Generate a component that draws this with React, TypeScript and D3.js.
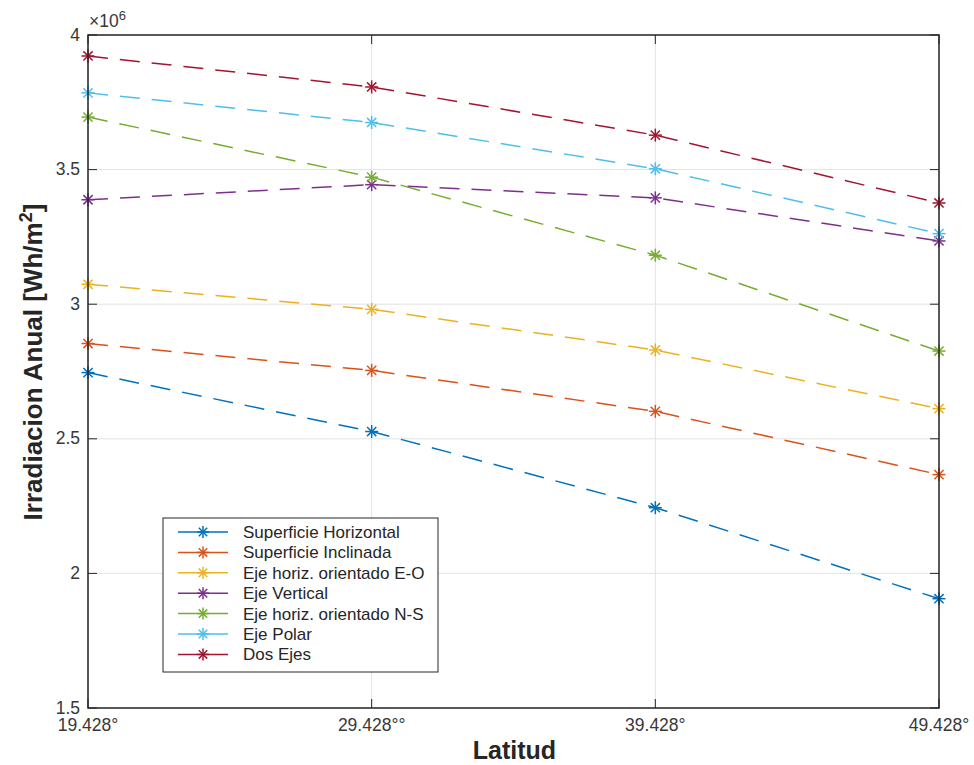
import React from "react";
import * as d3 from "d3";

const latitudes = [19.428, 29.428, 39.428, 49.428];
const xTickLabels = ["19.428°", "29.428°°", "39.428°", "49.428°"];
const yTicks = [1.5, 2, 2.5, 3, 3.5, 4];

const seriesNames = [
  "Superficie Horizontal",
  "Superficie Inclinada",
  "Eje horiz. orientado E-O",
  "Eje Vertical",
  "Eje horiz. orientado N-S",
  "Eje Polar",
  "Dos Ejes",
];
const seriesColors = ["#0072BD", "#D95319", "#EDB120", "#7E2F8E", "#77AC30", "#4DBEEE", "#A2142F"];

// Annual irradiation, in units of 1e6 Wh/m²
const horizontal = [2.746, 2.527, 2.244, 1.906];
const inclinada = [2.854, 2.754, 2.602, 2.367];
const ejeEO = [3.074, 2.981, 2.830, 2.612];
const ejeVertical = [3.388, 3.444, 3.395, 3.235];
const ejeNS = [3.695, 3.472, 3.182, 2.826];
const ejePolar = [3.785, 3.675, 3.503, 3.262];
const dosEjes = [3.922, 3.807, 3.628, 3.376];

const seriesValues = [horizontal, inclinada, ejeEO, ejeVertical, ejeNS, ejePolar, dosEjes];

const W = 974;
const H = 765;
const left = 88;
const right = 939;
const top = 35;
const bottom = 708;

const FONT = "'Liberation Sans', Arial, Helvetica, sans-serif";

function Asterisk({ x, y, r, color }: { x: number; y: number; r: number; color: string }) {
  const d = r * Math.SQRT1_2;
  return (
    <g stroke={color} strokeWidth={1.5}>
      <line x1={x - r} y1={y} x2={x + r} y2={y} />
      <line x1={x} y1={y - r} x2={x} y2={y + r} />
      <line x1={x - d} y1={y - d} x2={x + d} y2={y + d} />
      <line x1={x - d} y1={y + d} x2={x + d} y2={y - d} />
    </g>
  );
}

export default function App() {
  const x = d3.scaleLinear().domain([19.428, 49.428]).range([left, right]);
  const y = d3.scaleLinear().domain([1.5, 4]).range([bottom, top]);
  const line = d3
    .line<number>()
    .x((_, i) => x(latitudes[i]))
    .y((v) => y(v));

  const legX = 163;
  const legY = 518;
  const legW = 275;
  const legH = 154;
  const rowStart = 532;
  const rowStep = 20.4;

  return (
    <svg width={W} height={H} style={{ position: "absolute", left: 0, top: 0, background: "#fff" }} fontFamily={FONT}>
      <rect x={0} y={0} width={W} height={H} fill="#fff" />
      {/* grid */}
      <g stroke="#e3e3e3" strokeWidth={1}>
        {latitudes.map((v, i) => (
          <line key={"gx" + i} x1={x(v)} x2={x(v)} y1={top} y2={bottom} />
        ))}
        {yTicks.map((v, i) => (
          <line key={"gy" + i} x1={left} x2={right} y1={y(v)} y2={y(v)} />
        ))}
      </g>
      {/* inward ticks */}
      <g stroke="#262626" strokeWidth={1}>
        {latitudes.map((v, i) => (
          <g key={"tx" + i}>
            <line x1={x(v)} x2={x(v)} y1={bottom} y2={bottom - 9} />
            <line x1={x(v)} x2={x(v)} y1={top} y2={top + 9} />
          </g>
        ))}
        {yTicks.map((v, i) => (
          <g key={"ty" + i}>
            <line x1={left} x2={left + 9} y1={y(v)} y2={y(v)} />
            <line x1={right} x2={right - 9} y1={y(v)} y2={y(v)} />
          </g>
        ))}
      </g>
      {/* series */}
      {seriesValues.map((vals, si) => (
        <g key={"s" + si}>
          <path d={line(vals) || ""} fill="none" stroke={seriesColors[si]} strokeWidth={1.5} strokeDasharray="20,12" />
          {vals.map((v, i) => (
            <Asterisk key={i} x={x(latitudes[i])} y={y(v)} r={6.5} color={seriesColors[si]} />
          ))}
        </g>
      ))}
      {/* axes box */}
      <rect x={left} y={top} width={right - left} height={bottom - top} fill="none" stroke="#262626" strokeWidth={1.5} />
      {/* tick labels */}
      <g fill="#383838" fontSize={17.5}>
        {yTicks.map((v, i) => (
          <text key={"yl" + i} x={left - 8} y={y(v) + 5.5} textAnchor="end">
            {d3.format("~g")(v)}
          </text>
        ))}
        {latitudes.map((v, i) => (
          <text key={"xl" + i} x={x(v)} y={bottom + 23} textAnchor="middle">
            {xTickLabels[i]}
          </text>
        ))}
        <text x={left + 1} y={top - 8} fontSize={17.5}>
          ×10<tspan dy={-7} fontSize={13}>6</tspan>
        </text>
      </g>
      {/* axis titles */}
      <text x={(left + right) / 2 + 1} y={759} textAnchor="middle" fontSize={25} fontWeight="bold" fill="#262626">
        Latitud
      </text>
      <text
        transform={`translate(42,${362}) rotate(-90)`}
        textAnchor="middle"
        fontSize={26}
        fontWeight="bold"
        fill="#262626"
      >
        Irradiacion Anual [Wh/m<tspan dy={-10} fontSize={18}>2</tspan>
        <tspan dy={10}>]</tspan>
      </text>
      {/* legend */}
      <rect x={legX} y={legY} width={legW} height={legH} fill="#fff" stroke="#262626" strokeWidth={1} />
      {seriesNames.map((name, i) => {
        const ry = rowStart + i * rowStep;
        return (
          <g key={"lg" + i}>
            <line x1={178} x2={228} y1={ry} y2={ry} stroke={seriesColors[i]} strokeWidth={1.5} />
            <Asterisk x={203} y={ry} r={6} color={seriesColors[i]} />
            <text x={243} y={ry + 6} fontSize={17} fill="#262626">
              {name}
            </text>
          </g>
        );
      })}
    </svg>
  );
}
